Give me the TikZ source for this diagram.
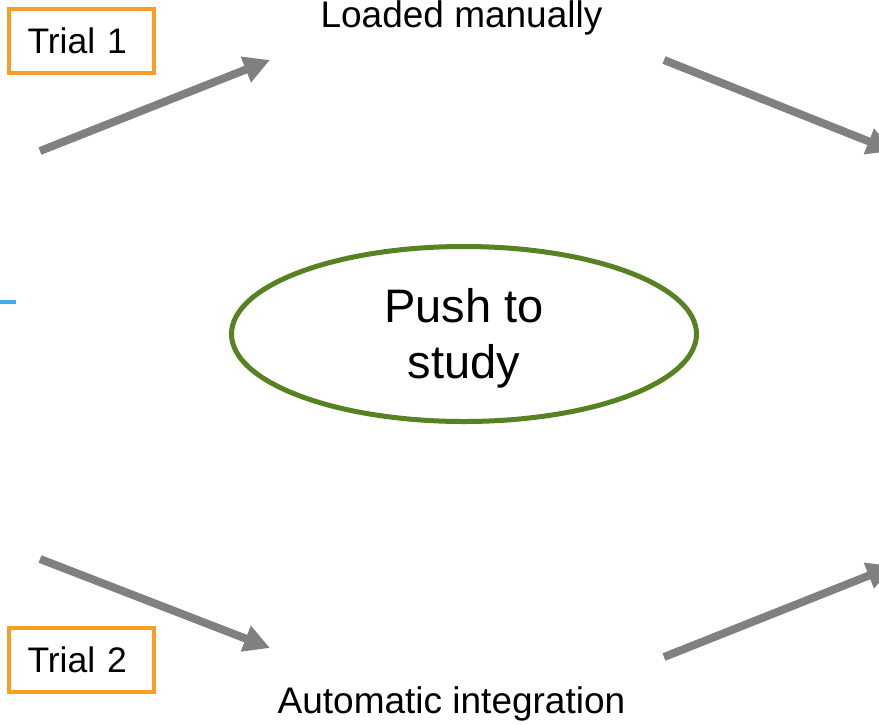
\documentclass[tikz,border=0pt]{standalone}
\usepackage{fontspec}
\setmainfont{Liberation Sans}
\usetikzlibrary{arrows.meta,shapes.geometric}
\definecolor{trialorange}{RGB}{247,158,36}
\definecolor{flowgray}{RGB}{128,128,128}
\definecolor{pushgreen}{RGB}{86,130,34}
\definecolor{tickblue}{RGB}{64,172,232}
\begin{document}
\begin{tikzpicture}[x=1pt,y=-1pt,
  trialbox/.style={draw=trialorange, line width=4pt, minimum width=145pt,
    minimum height=64pt, inner xsep=19pt, inner ysep=0pt,
    text width=107pt, align=left, font=\fontsize{35.5}{42}\selectfont},
  flow/.style={draw=flowgray, line width=8pt,
    -{Triangle[length=26pt,width=26pt]}},
  pathlabel/.style={anchor=base, inner sep=0pt, font=\fontsize{37}{44}\selectfont},
  pushnode/.style={ellipse, draw=pushgreen, line width=5pt, minimum width=465pt,
    minimum height=175pt, inner sep=0pt},
  pushtext/.style={inner sep=0pt, align=center,
    font=\fontsize{47}{56}\selectfont}]
  \useasboundingbox (0,0) rectangle (879,724);
  \clip (0,0) rectangle (879,724);

  % labels and boxes
  \node[trialbox] (trial1) at (81,40.5) {Trial 1};
  \node[trialbox] (trial2) at (81,660) {Trial 2};
  \node[pathlabel] (manual) at (461.5,27) {Loaded manually};
  \node[pathlabel] (auto) at (451.5,713) {Automatic integration};
  \node[pushnode] (push) at (464,334) {};
  \node[pushtext] (pushlbl) at (464,338) {Push to\\study};

  % arrow end points
  \coordinate (a1s) at (40,151);
  \coordinate (a1e) at (270,60);
  \coordinate (a2s) at (664,60);
  \coordinate (a2e) at (893,151);
  \coordinate (a3s) at (40,559);
  \coordinate (a3e) at (270,648);
  \coordinate (a4s) at (664,657);
  \coordinate (a4e) at (893,566);
  \coordinate (tickL) at (-4,302);
  \coordinate (tickR) at (16,302);

  % flow arrows
  \draw[flow] (a1s) -- (a1e);
  \draw[flow] (a2s) -- (a2e);
  \draw[flow] (a3s) -- (a3e);
  \draw[flow] (a4s) -- (a4e);

  % short blue mark at the left edge
  \draw[tickblue, line width=4pt] (tickL) -- (tickR);
\end{tikzpicture}
\end{document}
